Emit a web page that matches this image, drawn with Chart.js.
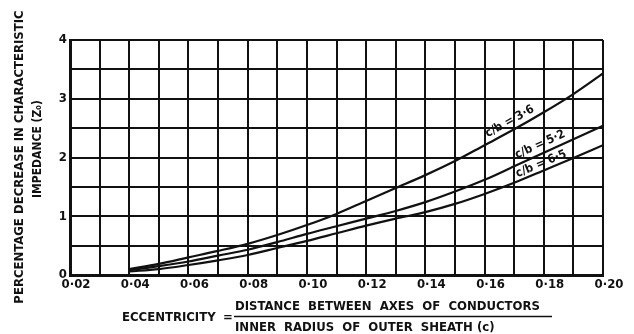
<!DOCTYPE html>
<html>
<head>
<meta charset="utf-8">
<script src="https://cdn.jsdelivr.net/npm/chart.js@4.4.0/dist/chart.umd.min.js"></script>
<style>
    html, body { margin: 0; padding: 0; background: #ffffff; }
    #wrap { width: 634px; height: 334px; position: relative; }
</style>
</head>
<body>
<div id="wrap"><canvas id="zoChart" width="634" height="334"></canvas></div>
<script>
    // Eccentricity values (x)
    const eccentricity = [0.04, 0.05, 0.06, 0.07, 0.08, 0.09, 0.10, 0.11, 0.12, 0.13, 0.14, 0.15, 0.16, 0.17, 0.18, 0.19, 0.20];

    // Percentage decrease in Zo for each c/b ratio
    const cb36 = [0.10, 0.19, 0.30, 0.41, 0.53, 0.68, 0.85, 1.04, 1.26, 1.48, 1.70, 1.94, 2.21, 2.48, 2.77, 3.08, 3.43];
    const cb52 = [0.08, 0.15, 0.23, 0.33, 0.43, 0.56, 0.70, 0.83, 0.96, 1.09, 1.24, 1.42, 1.62, 1.85, 2.08, 2.31, 2.54];
    const cb65 = [0.06, 0.10, 0.17, 0.25, 0.34, 0.46, 0.58, 0.71, 0.84, 0.96, 1.07, 1.21, 1.38, 1.57, 1.78, 1.99, 2.21];

    const seriesLabels = ['c/b = 3·6', 'c/b = 5·2', 'c/b = 6·5'];
    const yTickLabels = ['0', '1', '2', '3', '4'];

    const FONT = '"DejaVu Sans Condensed", "DejaVu Sans", sans-serif';

    function toPoints(values) {
        return eccentricity.map((x, i) => ({ x: x, y: values[i] }));
    }

    // Draws axis titles and curve labels
    const textPlugin = {
        id: 'textPlugin',
        afterDraw(chart) {
            const ctx = chart.ctx;
            const xs = chart.scales.x;
            const ys = chart.scales.y;
            ctx.save();
            ctx.fillStyle = '#111';
            ctx.strokeStyle = '#111';

            // y title, two rotated lines
            ctx.font = 'bold 13px ' + FONT;
            ctx.textAlign = 'center';
            ctx.textBaseline = 'middle';
            ctx.save();
            ctx.translate(20, 157);
            ctx.rotate(-Math.PI / 2);
            ctx.fillText('PERCENTAGE DECREASE IN CHARACTERISTIC', 0, 0, 306);
            ctx.restore();
            ctx.save();
            ctx.translate(38, 149);
            ctx.rotate(-Math.PI / 2);
            ctx.font = 'bold 12px ' + FONT;
            ctx.fillText('IMPEDANCE (Z₀)', 0, 0, 100);
            ctx.restore();

            // x title as a fraction
            ctx.font = 'bold 13px ' + FONT;
            ctx.textAlign = 'left';
            ctx.fillText('ECCENTRICITY', 122, 318, 96);
            ctx.fillText('=', 223, 318);
            ctx.fillText('DISTANCE  BETWEEN  AXES  OF  CONDUCTORS', 235, 307, 315);
            ctx.fillText('INNER  RADIUS  OF  OUTER  SHEATH (c)', 235, 328, 283);
            ctx.lineWidth = 1.5;
            ctx.beginPath();
            ctx.moveTo(234, 316.5);
            ctx.lineTo(552, 316.5);
            ctx.stroke();

            // curve labels, rotated along the curve
            ctx.font = 'bold 12px ' + FONT;
            const spots = [
                { ds: 0, i: 13, off: 9 },
                { ds: 1, i: 14, off: 9 },
                { ds: 2, i: 14, off: 7 }
            ];
            spots.forEach(s => {
                const vals = chart.data.datasets[s.ds].data;
                const pa = vals[s.i - 1], pb = vals[s.i + 1], p = vals[s.i];
                const xa = xs.getPixelForValue(pa.x), ya = ys.getPixelForValue(pa.y);
                const xb = xs.getPixelForValue(pb.x), yb = ys.getPixelForValue(pb.y);
                const ang = Math.atan2(yb - ya, xb - xa);
                const cx = xs.getPixelForValue(p.x) + Math.sin(ang) * s.off;
                const cy = ys.getPixelForValue(p.y) - Math.cos(ang) * s.off;
                ctx.save();
                ctx.translate(cx, cy);
                ctx.rotate(ang);
                ctx.textAlign = 'center';
                ctx.fillText(seriesLabels[s.ds], 0, 0);
                ctx.restore();
            });
            ctx.restore();
        }
    };

    const lineStyle = {
        borderColor: '#111',
        borderWidth: 2.2,
        pointRadius: 0,
        fill: false,
        cubicInterpolationMode: 'monotone'
    };

    new Chart(document.getElementById('zoChart').getContext('2d'), {
        type: 'line',
        data: {
            datasets: [
                Object.assign({ label: seriesLabels[0], data: toPoints(cb36) }, lineStyle),
                Object.assign({ label: seriesLabels[1], data: toPoints(cb52) }, lineStyle),
                Object.assign({ label: seriesLabels[2], data: toPoints(cb65) }, lineStyle)
            ]
        },
        options: {
            responsive: false,
            animation: false,
            layout: { padding: { top: 40, right: 31, left: 0, bottom: 0 } },
            plugins: {
                legend: { display: false },
                tooltip: { enabled: false }
            },
            scales: {
                x: {
                    type: 'linear',
                    min: 0.02,
                    max: 0.20,
                    afterFit: scale => { scale.height = 59; },
                    ticks: {
                        stepSize: 0.01,
                        autoSkip: false,
                        maxRotation: 0,
                        padding: 2,
                        labelOffset: 6,
                        color: '#111',
                        font: { family: FONT, size: 13, weight: 'bold' },
                        callback: v => {
                            const n = Math.round(v * 100);
                            return n % 2 === 0 ? '0·' + String(n).padStart(2, '0') : '';
                        }
                    },
                    grid: { color: '#111', lineWidth: 2, drawTicks: false },
                    border: { color: '#111', width: 3 }
                },
                y: {
                    min: 0,
                    max: 4,
                    afterFit: scale => { scale.width = 70; },
                    ticks: {
                        stepSize: 0.5,
                        padding: 3,
                        color: '#111',
                        font: { family: FONT, size: 13, weight: 'bold' },
                        callback: v => Number.isInteger(v) ? yTickLabels[v] : ''
                    },
                    grid: { color: '#111', lineWidth: 2, drawTicks: false },
                    border: { color: '#111', width: 3 }
                }
            }
        },
        plugins: [textPlugin]
    });
</script>
</body>
</html>
